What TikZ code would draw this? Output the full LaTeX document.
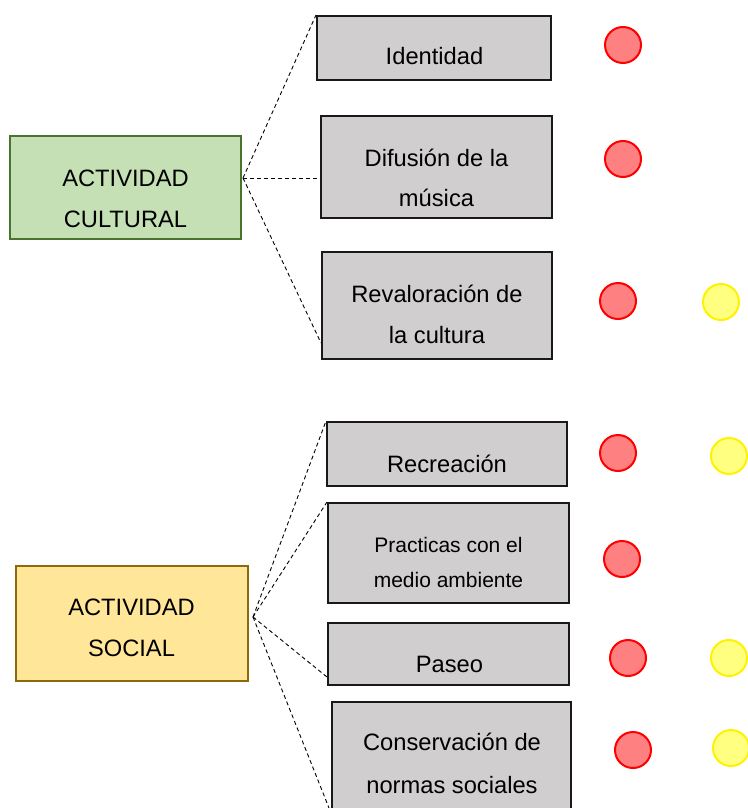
\documentclass[tikz,border=0pt]{standalone}
\usepackage{fontspec}
\setmainfont{Liberation Sans}
\usepackage{tikz}
\usetikzlibrary{calc}

\definecolor{culturefill}{HTML}{C5E0B4}
\definecolor{cultureline}{HTML}{4A7330}
\definecolor{socialfill}{HTML}{FFE699}
\definecolor{socialline}{HTML}{8C6A0C}
\definecolor{itemfill}{HTML}{D0CECE}
\definecolor{redfill}{HTML}{FF8080}
\definecolor{yelfill}{HTML}{FFFF80}

\begin{document}
\begin{tikzpicture}[x=1pt, y=-1pt,
        cat/.style={rectangle, line width=2pt, inner sep=0pt},
        item/.style={rectangle, draw=black!90, fill=itemfill, line width=2pt, inner sep=0pt},
        txt/.style={align=center, inner sep=0pt, font=\fontsize{23.7}{41}\selectfont},
        link/.style={dash pattern=on 4pt off 3pt, line width=0.9pt},
        redball/.style={circle, draw=red, fill=redfill, line width=2pt, minimum size=36pt, inner sep=0pt},
        yelball/.style={circle, draw=yellow, fill=yelfill, line width=2pt, minimum size=36pt, inner sep=0pt}
    ]
    \useasboundingbox (0,0) rectangle (747,808);

    % categories
    \node (cultural) [cat, draw=cultureline, fill=culturefill, minimum width=231pt, minimum height=103pt] at (125.5,187.5) {};
    \node (culturaltext) [txt] at (125.5,199) {ACTIVIDAD\\CULTURAL};
    \node (social) [cat, draw=socialline, fill=socialfill, minimum width=232pt, minimum height=115pt] at (132,623.5) {};
    \node (socialtext) [txt] at (131.5,628) {ACTIVIDAD\\SOCIAL};

    % cultural items
    \node (ident) [item, minimum width=234pt, minimum height=64pt] at (434,48) {};
    \node (identtext) [txt, anchor=base] at (434.5,65) {Identidad};
    \node (difus) [item, minimum width=231pt, minimum height=102pt] at (436.5,167) {};
    \node (difustext) [txt, font=\fontsize{23.7}{40}\selectfont] at (436.5,178) {Difusión de la\\música};
    \node (reval) [item, minimum width=230pt, minimum height=107pt] at (437,305.5) {};
    \node (revaltext) [txt] at (437,314) {Revaloración de\\la cultura};

    % social items
    \node (recre) [item, minimum width=240pt, minimum height=64pt] at (447,454) {};
    \node (recretext) [txt, anchor=base] at (447,472) {Recreación};
    \node (pract) [item, minimum width=241pt, minimum height=100pt] at (448.5,553) {};
    \node (practtext) [txt, font=\fontsize{21}{35}\selectfont] at (448.5,562) {Practicas con el\\medio ambiente};
    \node (paseo) [item, minimum width=241pt, minimum height=62pt] at (448.5,654) {};
    \node (paseotext) [txt, anchor=base] at (449.5,672) {Paseo};
    \node (conserv) [item, minimum width=239pt, minimum height=110pt] at (451.5,757) {};
    \node (conservtext) [txt, font=\fontsize{23.7}{43}\selectfont] at (452,763) {Conservación de\\normas sociales};

    % connectors
    \coordinate (cjoin) at (243,178);
    \coordinate (sjoin) at (253,617);
    \draw [link] (cjoin) -- (ident.north west);
    \draw [link] (cjoin) -- (cjoin -| difus.west);
    \draw [link] (cjoin) -- ($(reval.south west)+(0,-17)$);
    \draw [link] (sjoin) -- (recre.north west);
    \draw [link] (sjoin) -- (pract.north west);
    \draw [link] (sjoin) -- ($(paseo.south west)+(0,-9)$);
    \draw [link] (sjoin) -- (conserv.south west);

    % ratings
    \node (r1) [redball] at (623,45) {};
    \node (r2) [redball] at (623,159) {};
    \node (r3) [redball] at (618,301) {};
    \node (y3) [yelball] at (721,302) {};
    \node (r4) [redball] at (618,453) {};
    \node (y4) [yelball] at (729,456) {};
    \node (r5) [redball] at (622,559) {};
    \node (r6) [redball] at (628,658) {};
    \node (y6) [yelball] at (729,658) {};
    \node (r7) [redball] at (633,750) {};
    \node (y7) [yelball] at (731,748) {};
\end{tikzpicture}
\end{document}
